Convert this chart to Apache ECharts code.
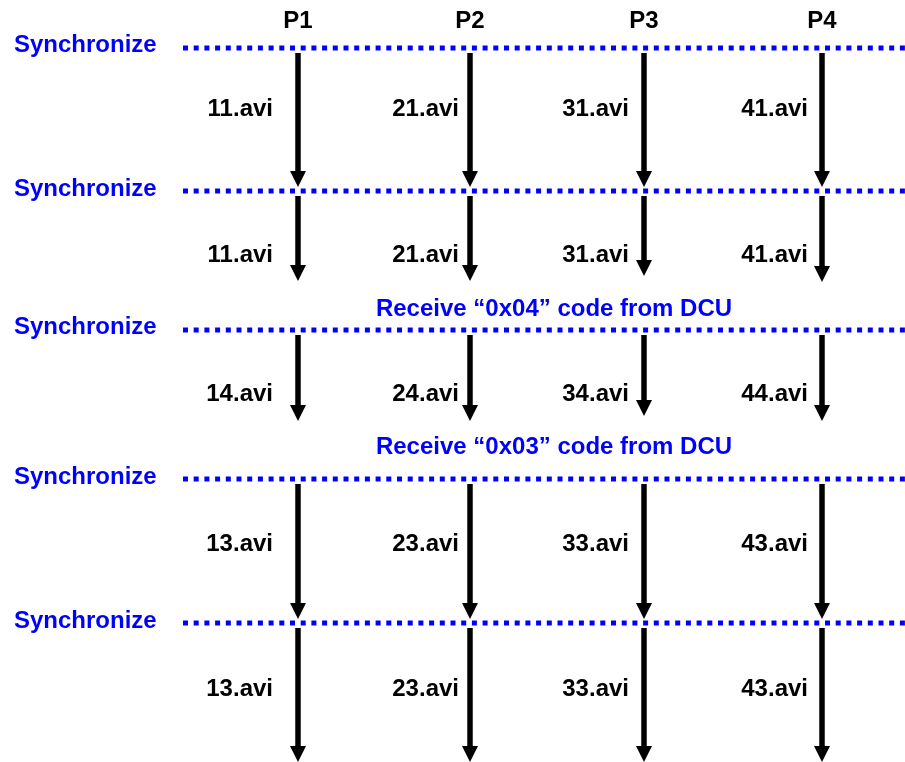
<!DOCTYPE html>
<html>
<head>
<meta charset="utf-8">
<script src="https://cdn.jsdelivr.net/npm/echarts@6/dist/echarts.min.js"></script>
<style>html,body{margin:0;padding:0;background:#fff;}#main{width:905px;height:762px;}</style>
</head>
<body>
<div id="main"></div>
<script>
// ---- data ----
const processes = ['P1', 'P2', 'P3', 'P4'];
const processX = [298, 470, 644, 822];
const headerY = 20;
const labelRightX = [273, 459, 629, 808];
const syncText = 'Synchronize';
const syncY = [48, 191, 330, 479, 623];
const syncLabelY = [44, 188, 326, 476, 620];
const rowFiles = [
  ['11.avi', '21.avi', '31.avi', '41.avi'],
  ['11.avi', '21.avi', '31.avi', '41.avi'],
  ['14.avi', '24.avi', '34.avi', '44.avi'],
  ['13.avi', '23.avi', '33.avi', '43.avi'],
  ['13.avi', '23.avi', '33.avi', '43.avi']
];
const rowLabelY = [108, 254, 393, 543, 688];
const rowArrowEnd = [
  [187, 187, 187, 187],
  [281, 281, 276, 282],
  [421, 421, 416, 421],
  [619, 619, 619, 619],
  [762, 762, 762, 762]
];
const eventText = ['Receive \u201C0x04\u201D code from DCU', 'Receive \u201C0x03\u201D code from DCU'];
const eventX = [554, 554];
const eventY = [308, 446];

// ---- build series data ----
const arrowData = [];
rowArrowEnd.forEach((ends, r) => {
  ends.forEach((end, p) => arrowData.push([processX[p], syncY[r] + 5, end]));
});
const syncData = syncY.map(y => [183, 905, y]);
const textData = [];
processes.forEach((t, i) => textData.push([processX[i], headerY, t, '#000', 'center']));
syncLabelY.forEach(y => textData.push([14, y, syncText, '#0000ff', 'left']));
rowFiles.forEach((row, r) => row.forEach((t, p) => textData.push([labelRightX[p], rowLabelY[r], t, '#000', 'right'])));
eventText.forEach((t, i) => textData.push([eventX[i], eventY[i], t, '#0000ff', 'center']));

const FONT = '"Liberation Sans", Arial, sans-serif';
const chart = echarts.init(document.getElementById('main'));
chart.setOption({
  animation: false,
  grid: { left: 0, right: 0, top: 0, bottom: 0 },
  xAxis: { type: 'value', min: 0, max: 905, show: false },
  yAxis: { type: 'value', min: 0, max: 762, inverse: true, show: false },
  series: [
    {
      type: 'custom',
      data: syncData,
      renderItem: (params, api) => {
        const a = api.coord([api.value(0), api.value(2)]);
        const b = api.coord([api.value(1), api.value(2)]);
        return {
          type: 'line',
          shape: { x1: a[0], y1: a[1], x2: b[0], y2: b[1] },
          style: { stroke: '#0000ff', lineWidth: 5, lineDash: [5, 5.7], lineCap: 'butt' }
        };
      }
    },
    {
      type: 'custom',
      data: arrowData,
      renderItem: (params, api) => {
        const a = api.coord([api.value(0), api.value(1)]);
        const b = api.coord([api.value(0), api.value(2)]);
        const head = 16, hw = 8;
        return {
          type: 'group',
          children: [
            { type: 'line', shape: { x1: a[0], y1: a[1], x2: b[0], y2: b[1] - head + 1 }, style: { stroke: '#000', lineWidth: 5.5 } },
            { type: 'polygon', shape: { points: [[b[0] - hw, b[1] - head], [b[0] + hw, b[1] - head], [b[0], b[1]]] }, style: { fill: '#000' } }
          ]
        };
      }
    },
    {
      type: 'custom',
      data: textData,
      renderItem: (params, api) => {
        const d = textData[params.dataIndex];
        const p = api.coord([d[0], d[1]]);
        return {
          type: 'text',
          style: {
            text: d[2], x: p[0], y: p[1] + 1, fill: d[3],
            align: d[4], verticalAlign: 'middle',
            fontSize: 24, fontWeight: 'bold', fontFamily: FONT
          }
        };
      }
    }
  ]
});
</script>
</body>
</html>
